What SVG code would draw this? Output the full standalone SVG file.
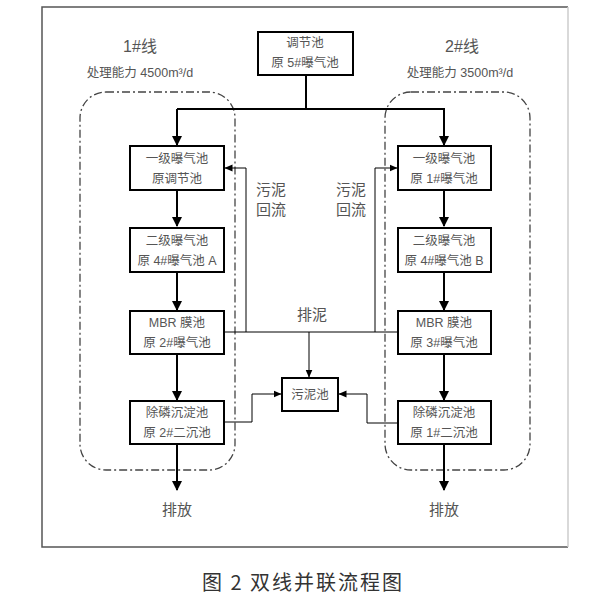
<svg xmlns="http://www.w3.org/2000/svg" width="591" height="602" viewBox="0 0 591 602">
<defs>
<marker id="ah" markerWidth="10" markerHeight="10" refX="9" refY="5" orient="auto" markerUnits="userSpaceOnUse"><path d="M0,0 L10,5 L0,10 Z" fill="#000"/></marker>
<marker id="as" markerWidth="8" markerHeight="8" refX="7.5" refY="4" orient="auto" markerUnits="userSpaceOnUse"><path d="M0,0.5 L8,4 L0,7.5 Z" fill="#000"/></marker>
<style>
.box{fill:#fff;stroke:#000;stroke-width:2}
.t{font-family:"Liberation Sans","Noto Sans CJK SC",sans-serif;font-size:12.5px;fill:#555;text-anchor:middle}
.lab{font-family:"Liberation Sans","Noto Sans CJK SC",sans-serif;font-size:15px;fill:#555;text-anchor:middle}
.main{fill:none;stroke:#000;stroke-width:2}
.thin{fill:none;stroke:#000;stroke-width:1}
.zone{fill:none;stroke:#444;stroke-width:1.3;stroke-dasharray:8 3 2 3}
</style>
</defs>
<rect x="0" y="0" width="591" height="602" fill="#fff"/>
<path d="M568,7 L42,7 L42,547 L568,547" fill="none" stroke="#555" stroke-width="1.5"/>
<line x1="568" y1="7" x2="568" y2="547" stroke="#ccc" stroke-width="1.5"/>

<g id="zones">
<rect class="zone" x="80" y="92" width="155" height="378" rx="26"/>
<rect class="zone" x="385" y="92" width="145" height="378" rx="26"/>
</g>

<g id="labels">
<text class="lab" x="140" y="52" style="font-size:16px">1#线</text>
<text class="t" x="140" y="77">处理能力 4500m³/d</text>
<text class="lab" x="462" y="52" style="font-size:16px">2#线</text>
<text class="t" x="460" y="77">处理能力 3500m³/d</text>
<text class="lab" x="271" y="195">污泥</text>
<text class="lab" x="271" y="215">回流</text>
<text class="lab" x="351" y="195">污泥</text>
<text class="lab" x="351" y="215">回流</text>
<text class="lab" x="312" y="320">排泥</text>
<text class="lab" x="177" y="515">排放</text>
<text class="lab" x="444" y="515">排放</text>
</g>

<g id="connectors">
<path class="main" d="M306,75 V109"/>
<path class="main" d="M177,109 H445"/>
<path class="main" d="M177,109 V145" marker-end="url(#ah)"/>
<path class="main" d="M444,109 V145" marker-end="url(#ah)"/>
<path class="main" d="M177,190 V226" marker-end="url(#ah)"/>
<path class="main" d="M444,190 V226" marker-end="url(#ah)"/>
<path class="main" d="M177,272 V310" marker-end="url(#ah)"/>
<path class="main" d="M444,272 V310" marker-end="url(#ah)"/>
<path class="main" d="M177,354 V400" marker-end="url(#ah)"/>
<path class="main" d="M444,354 V400" marker-end="url(#ah)"/>
<path class="main" d="M177,444 V490" marker-end="url(#ah)"/>
<path class="main" d="M444,444 V490" marker-end="url(#ah)"/>
<path class="thin" d="M224,332 H397"/>
<path class="thin" d="M246,332 V168 H225" marker-end="url(#as)"/>
<path class="thin" d="M375,332 V168 H397" marker-end="url(#as)"/>
<path class="thin" d="M309,332 V377" marker-end="url(#as)"/>
<path class="thin" d="M224,422 H252 V394 H281" marker-end="url(#as)"/>
<path class="thin" d="M397,423 H367 V394 H339" marker-end="url(#as)"/>
</g>

<g id="n_top"><rect class="box" x="258" y="32" width="95" height="43"/><text class="t" x="305" y="47">调节池</text><text class="t" x="305" y="67">原 5#曝气池</text></g>

<g id="n_l1"><rect class="box" x="130" y="146" width="94" height="44"/><text class="t" x="177" y="163">一级曝气池</text><text class="t" x="177" y="183">原调节池</text></g>
<g id="n_l2"><rect class="box" x="130" y="228" width="94" height="44"/><text class="t" x="177" y="245">二级曝气池</text><text class="t" x="177" y="265">原 4#曝气池 A</text></g>
<g id="n_l3"><rect class="box" x="130" y="311" width="94" height="43"/><text class="t" x="177" y="327">MBR 膜池</text><text class="t" x="177" y="347">原 2#曝气池</text></g>
<g id="n_l4"><rect class="box" x="130" y="401" width="94" height="43"/><text class="t" x="177" y="417">除磷沉淀池</text><text class="t" x="177" y="437">原 2#二沉池</text></g>

<g id="n_r1"><rect class="box" x="398" y="146" width="93" height="44"/><text class="t" x="444" y="163">一级曝气池</text><text class="t" x="444" y="183">原 1#曝气池</text></g>
<g id="n_r2"><rect class="box" x="398" y="228" width="93" height="44"/><text class="t" x="444" y="245">二级曝气池</text><text class="t" x="444" y="265">原 4#曝气池 B</text></g>
<g id="n_r3"><rect class="box" x="398" y="311" width="93" height="43"/><text class="t" x="444" y="327">MBR 膜池</text><text class="t" x="444" y="347">原 3#曝气池</text></g>
<g id="n_r4"><rect class="box" x="398" y="401" width="93" height="43"/><text class="t" x="444" y="417">除磷沉淀池</text><text class="t" x="444" y="437">原 1#二沉池</text></g>

<g id="n_sludge"><rect class="box" x="282" y="378" width="56" height="33"/><text class="t" x="310" y="399">污泥池</text></g>

<text x="303" y="590" style="font-family:'Noto Sans CJK SC','Liberation Sans',sans-serif;font-size:20px;fill:#333;text-anchor:middle;letter-spacing:2px">图 2 双线并联流程图</text>
</svg>
